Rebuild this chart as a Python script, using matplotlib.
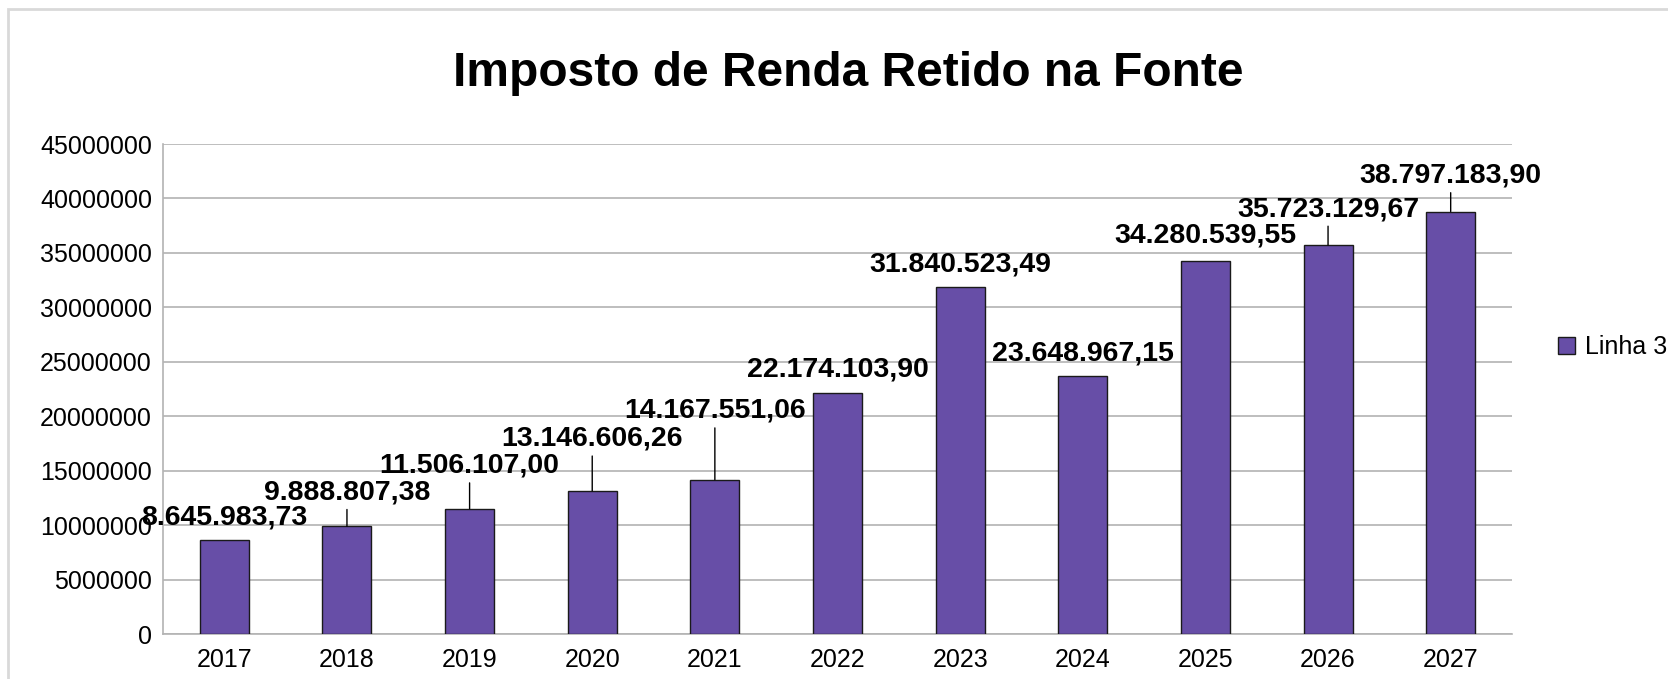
import matplotlib.pyplot as plt
from matplotlib.patches import Rectangle

plt.rcParams['font.family'] = ['Liberation Sans', 'DejaVu Sans']

anos = ["2017", "2018", "2019", "2020", "2021", "2022", "2023", "2024", "2025", "2026", "2027"]
valores = [8645983.73, 9888807.38, 11506107.00, 13146606.26, 14167551.06, 22174103.90,
           31840523.49, 23648967.15, 34280539.55, 35723129.67, 38797183.90]
rotulos = ["8.645.983,73", "9.888.807,38", "11.506.107,00", "13.146.606,26", "14.167.551,06",
           "22.174.103,90", "31.840.523,49", "23.648.967,15", "34.280.539,55", "35.723.129,67",
           "38.797.183,90"]
# how far (px) each label centre sits above its bar
lift = [22, 34, 43, 52, 69, 23, 23, 23, 25, 36, 36]

fig = plt.figure(figsize=(16.68, 6.79), dpi=100)
fig.patches.append(Rectangle((8/1668, -0.1), 1.2, 1 - 9/679 + 0.1, transform=fig.transFigure,
                             fill=False, edgecolor="#d9d9d9", lw=2))
ax = fig.add_axes([163/1668, 1 - 634/679, (1512-163)/1668, (634-144)/679])

x = range(len(anos))
bars = ax.bar(x, valores, width=0.4, color="#674ea7", edgecolor="#1a1a1a", lw=1,
              label="Linha 3", zorder=3)
ax.set_xlim(-0.5, len(anos) - 0.5)
ax.set_ylim(0, 45000000)
ax.set_yticks(range(0, 45000001, 5000000))
ax.set_yticklabels([str(v) for v in range(0, 45000001, 5000000)])
ax.set_xticks(list(x))
ax.set_xticklabels(anos)
ax.yaxis.grid(True, color="#b3b3b3", lw=1.2, zorder=0)
ax.tick_params(length=0, labelsize=18, colors="black")
ax.tick_params(axis='y', pad=8)
ax.tick_params(axis='x', pad=10)
for s in ["top", "right"]:
    ax.spines[s].set_visible(False)
for s in ["left", "bottom"]:
    ax.spines[s].set_color("#b3b3b3")
    ax.spines[s].set_linewidth(1.2)

for i, (v, t, d) in enumerate(zip(valores, rotulos, lift)):
    props = dict(arrowstyle='-', color='black', lw=1, shrinkA=1, shrinkB=0) if d > 30 else None
    ax.annotate(t, xy=(i, v), xytext=(0, d), textcoords='offset pixels',
                ha='center', va='center', fontsize=20.5, fontweight='bold',
                arrowprops=props, zorder=5)

fig.text(848/1668, 1 - 74/679, "Imposto de Renda Retido na Fonte", ha='center', va='center',
         fontsize=34.5, fontweight='bold')

fig.legend(handles=[bars], loc='center left', bbox_to_anchor=(1545/1668, 1 - 347/679),
           frameon=False, fontsize=18, handlelength=0.7, handleheight=0.7,
           handletextpad=0.4, borderpad=0)

fig.savefig("out.png", dpi=100)
